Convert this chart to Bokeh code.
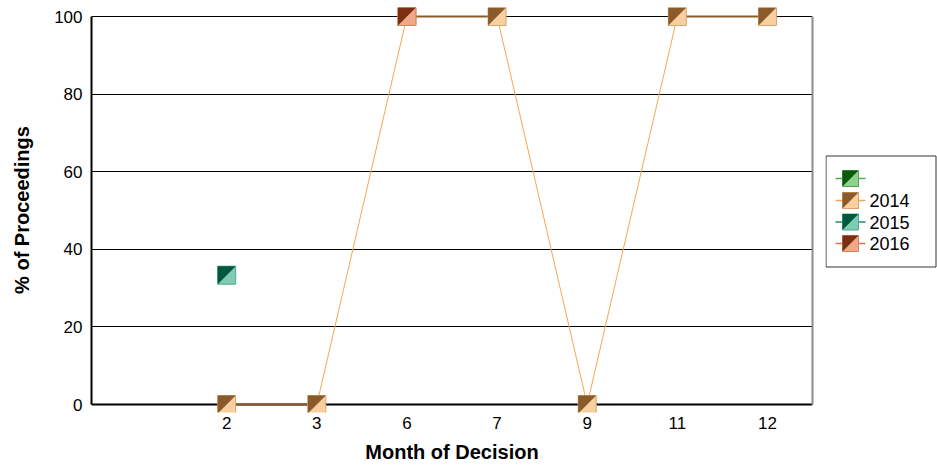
import numpy as np
from bokeh.plotting import figure
from bokeh.layouts import row
from bokeh.models import Range1d, FixedTicker, LinearAxis, Span
from bokeh.embed import file_html
from bokeh.resources import INLINE
from bokeh.core.properties import value

# ---------------- data ----------------
months = ["", "2", "3", "6", "7", "9", "11", "12"]
series_names = ["", "2014", "2015", "2016"]
vals_blank = [None, None, None, None, None, None, None, None]
vals_2014 = [None, 0, 0, 100, 100, 0, 100, 100]
vals_2015 = [None, 33.33, None, None, None, None, None, None]
vals_2016 = [None, None, None, 100, None, None, None, None]
y_ticks = [0, 20, 40, 60, 80, 100]

dark_colors = ["#0b5a0b", "#8b5a2b", "#00583f", "#7a2e12"]
light_colors = ["#8fd08f", "#f8d0a0", "#80cbb3", "#f0a888"]
edge_colors = ["#5aa05a", "#d9a46c", "#4fa88c", "#d98060"]
line_colors = ["#4caf50", "#f5a850", "#2e8b6a", "#e8704a"]

# ---------------- layout constants ----------------
W_MAIN, W_LEG, H = 825, 112, 466
Y_TOP_PX, Y_ZERO_PX = 16, 404           # pixel rows of 100 % and 0 %
EXT_TOP, EXT_BOT = 9, 8                 # frame extension so markers are not clipped
MB_L, MB_R = 91, 13
MB_T = Y_TOP_PX - EXT_TOP
MB_B = H - (Y_ZERO_PX + EXT_BOT)
FRAME_W = W_MAIN - MB_L - MB_R
PX_Y = 100 / float(Y_ZERO_PX - Y_TOP_PX)   # data units per pixel (y)
PX_X = len(months) / float(FRAME_W)        # data units per pixel (x)
FONT = "Liberation Sans"

p = figure(width=W_MAIN, height=H,
           x_range=Range1d(-0.5, len(months) - 0.5),
           y_range=Range1d(-EXT_BOT * PX_Y, 100 + EXT_TOP * PX_Y),
           output_backend="svg", toolbar_location=None,
           min_border_left=MB_L, min_border_right=MB_R,
           min_border_top=MB_T, min_border_bottom=MB_B)
p.outline_line_color = None
p.background_fill_color = "white"
p.xgrid.visible = False
p.ygrid.grid_line_color = "black"
p.ygrid.grid_line_width = 1

# x axis
xa = p.xaxis[0]
xa.ticker = FixedTicker(ticks=list(range(len(months))))
xa.major_label_overrides = {i: m for i, m in enumerate(months)}
xa.axis_line_color = None
xa.major_tick_line_color = None
xa.minor_tick_line_color = None
xa.major_tick_out = 0
xa.major_tick_in = 0
xa.major_label_standoff = 4
xa.major_label_text_font = FONT
xa.major_label_text_font_size = "17px"
xa.major_label_text_color = "black"
xa.axis_label = "Month of Decision"
xa.axis_label_text_font = FONT
xa.axis_label_text_font_style = "bold"
xa.axis_label_text_font_size = "20px"
xa.axis_label_text_color = "black"
xa.axis_label_standoff = 9

# y axis
ya = p.yaxis[0]
ya.bounds = (0, 100)
ya.ticker = FixedTicker(ticks=y_ticks)
ya.axis_line_color = "black"
ya.axis_line_width = 2
ya.major_tick_out = 0
ya.major_tick_in = 0
ya.minor_tick_line_color = None
ya.major_label_standoff = 9
ya.major_label_text_font = FONT
ya.major_label_text_font_size = "17px"
ya.major_label_text_color = "black"
ya.axis_label = "% of Proceedings"
ya.axis_label_text_font = FONT
ya.axis_label_text_font_style = "bold"
ya.axis_label_text_font_size = "20px"
ya.axis_label_text_color = "black"
ya.axis_label_standoff = 18

# right border as a bounded axis
ra = LinearAxis(bounds=(0, 100), ticker=FixedTicker(ticks=[]),
                axis_line_color="#8c8c8c", axis_line_width=2,
                major_tick_line_color=None, minor_tick_line_color=None,
                major_label_text_font_size="0px", major_label_standoff=0)
p.add_layout(ra, "right")

# bottom axis line at y = 0
p.add_layout(Span(location=0, dimension="width", line_color="black",
                  line_width=2, level="underlay"))

all_vals = [vals_blank, vals_2014, vals_2015, vals_2016]
xs = np.arange(len(months), dtype=float)
hx = 9 * PX_X
hy = 9 * PX_Y
arrs = [np.array([np.nan if a is None else a for a in v], dtype=float) for v in all_vals]

# lines
for k, y in enumerate(arrs):
    p.line(xs, y, line_color=line_colors[k], line_width=1)
    same = y[:-1] == y[1:]
    if same.any():
        p.segment(x0=xs[:-1][same], y0=y[:-1][same], x1=xs[1:][same], y1=y[1:][same],
                  line_color=dark_colors[k], line_width=2)

# markers
for k, y in enumerate(arrs):
    m = ~np.isnan(y)
    if not m.any():
        continue
    px, py = xs[m], y[m]
    p.scatter(px, py, marker="square", size=18, fill_color=light_colors[k],
              line_color=edge_colors[k], line_width=1)
    p.patches(xs=[[a - hx, a + hx, a - hx] for a in px],
              ys=[[b + hy, b + hy, b - hy] for b in py],
              fill_color=dark_colors[k], line_color=None)

# ---------------- legend panel (data units = page pixels) ----------------
leg = figure(width=W_LEG, height=H,
             x_range=Range1d(W_MAIN, W_MAIN + W_LEG),
             y_range=Range1d(H - MB_B, MB_T),
             output_backend="svg", toolbar_location=None,
             min_border_left=0, min_border_right=0,
             min_border_top=MB_T, min_border_bottom=MB_B,
             x_axis_type=None, y_axis_type=None)
leg.outline_line_color = None
for g in leg.grid:
    g.visible = False
leg.quad(left=825.5, right=935.5, top=155.5, bottom=266.5,
         fill_color="white", line_color="#333333", line_width=1)
row_y = [178, 200, 221.5, 243]
for k, ry in enumerate(row_y):
    leg.segment(x0=[835], y0=[ry], x1=[865], y1=[ry], line_color=line_colors[k], line_width=1.5)
    leg.scatter([850], [ry], marker="square", size=16, fill_color=light_colors[k],
                line_color=edge_colors[k], line_width=1)
    leg.patches(xs=[[842, 858, 842]], ys=[[ry - 8, ry - 8, ry + 8]],
                fill_color=dark_colors[k], line_color=None)
leg.text(x=[869] * len(series_names), y=row_y, text=series_names,
         text_baseline="middle", text_align="left",
         text_font=value(FONT), text_font_size="18px", text_color="black")

layout = row(p, leg)
open("out.html", "w").write(file_html(layout, INLINE))
